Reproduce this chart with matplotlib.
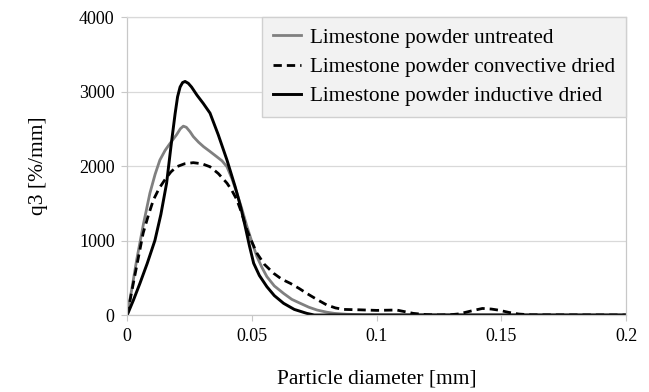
import numpy as np
import matplotlib.pyplot as plt

# particle size distributions
x_untreated = [0, 0.002, 0.0038, 0.0065, 0.0091, 0.0112, 0.0131, 0.0152, 0.0172, 0.0198, 0.0213, 0.0225, 0.0237,
               0.0252, 0.0265, 0.0286, 0.0306, 0.033, 0.0359, 0.038, 0.040, 0.042, 0.044, 0.046, 0.048, 0.050, 0.052,
               0.054, 0.056, 0.059, 0.0627, 0.066, 0.0694, 0.0728, 0.0761, 0.080, 0.083, 0.088, 0.095, 0.2]
q_untreated = [0, 380, 740, 1220, 1635, 1890, 2080, 2210, 2305, 2420, 2500, 2535, 2520,
               2460, 2395, 2320, 2260, 2200, 2125, 2070, 1990, 1830, 1635, 1420, 1190, 980, 785,
               640, 515, 390, 290, 210, 157, 105, 67, 38, 22, 10, 3, 0]

x_convective = [0, 0.003, 0.0064, 0.0085, 0.0105, 0.0128, 0.0151, 0.0175, 0.0198, 0.023, 0.0265, 0.030,
                0.0332, 0.0365, 0.040, 0.042, 0.044, 0.046, 0.048, 0.050, 0.052, 0.055, 0.0587, 0.062,
                0.0654, 0.069, 0.072, 0.076, 0.080, 0.0835, 0.0867, 0.093, 0.100, 0.108, 0.1147, 0.120,
                0.125, 0.130, 0.133, 0.138, 0.1424, 0.146, 0.149, 0.153, 0.157, 0.162, 0.2]
q_convective = [0, 520, 1100, 1340, 1545, 1700, 1815, 1920, 1990, 2030, 2045, 2030,
                1990, 1900, 1770, 1670, 1545, 1360, 1140, 980, 830, 680, 560, 480,
                425, 355, 290, 210, 135, 95, 75, 70, 62, 67, 22, 5,
                0, 5, 15, 55, 88, 80, 65, 35, 13, 2, 0]

x_inductive = [0, 0.0025, 0.0051, 0.008, 0.0111, 0.0135, 0.0158, 0.0175, 0.0192, 0.0202, 0.0212, 0.0222, 0.0232,
               0.0245, 0.0258, 0.028, 0.0305, 0.0332, 0.0365, 0.040, 0.0433, 0.0455, 0.0473, 0.049, 0.0507, 0.053,
               0.056, 0.059, 0.0627, 0.067, 0.072, 0.075, 0.2]
q_inductive = [0, 200, 425, 690, 1000, 1350, 1770, 2250, 2700, 2930, 3060, 3120, 3135,
               3110, 3060, 2950, 2840, 2710, 2420, 2080, 1720, 1450, 1190, 930, 695, 530,
               380, 260, 157, 75, 22, 0, 0]

labels = ["Limestone powder untreated",
          "Limestone powder convective dried",
          "Limestone powder inductive dried"]

plt.rcParams['font.family'] = ['Liberation Serif', 'DejaVu Serif']

fig = plt.figure(figsize=(6.49, 3.92), dpi=100)
ax = fig.add_axes([0.196, 0.1964, 0.7686, 0.7602])

ax.plot(x_untreated, q_untreated, color='#808080', lw=2.0, label=labels[0])
ax.plot(x_convective, q_convective, color='black', lw=2.0, dashes=(3, 1.8), label=labels[1])
ax.plot(x_inductive, q_inductive, color='black', lw=2.1, label=labels[2])

ax.set_xlim(0, 0.2)
ax.set_ylim(0, 4000)
ax.set_xticks([0, 0.05, 0.1, 0.15, 0.2])
ax.set_xticklabels(["0", "0.05", "0.1", "0.15", "0.2"])
ax.set_yticks([0, 1000, 2000, 3000, 4000])
ax.grid(axis='y', color='#d9d9d9', lw=0.9)
ax.set_axisbelow(True)

for s in ax.spines.values():
    s.set_color('#c8c8c8')
    s.set_linewidth(0.9)
ax.spines['top'].set_color('#d9d9d9')
ax.tick_params(axis='both', labelsize=13, length=4, color='#c8c8c8', pad=5)

ax.set_xlabel("Particle diameter [mm]", fontsize=15.5, labelpad=18)
ax.set_ylabel("q3 [%/mm]", fontsize=15.5, labelpad=22)

leg = ax.legend(loc='upper right', bbox_to_anchor=(1.0, 1.0), borderaxespad=0,
                fontsize=15.3, frameon=True, fancybox=False, handlelength=1.3,
                handletextpad=0.45, labelspacing=0.45, borderpad=0.5)
leg.get_frame().set_facecolor('#f2f2f2')
leg.get_frame().set_edgecolor('#d0d0d0')
leg.get_frame().set_alpha(1)

plt.savefig("out.png", dpi=100)
